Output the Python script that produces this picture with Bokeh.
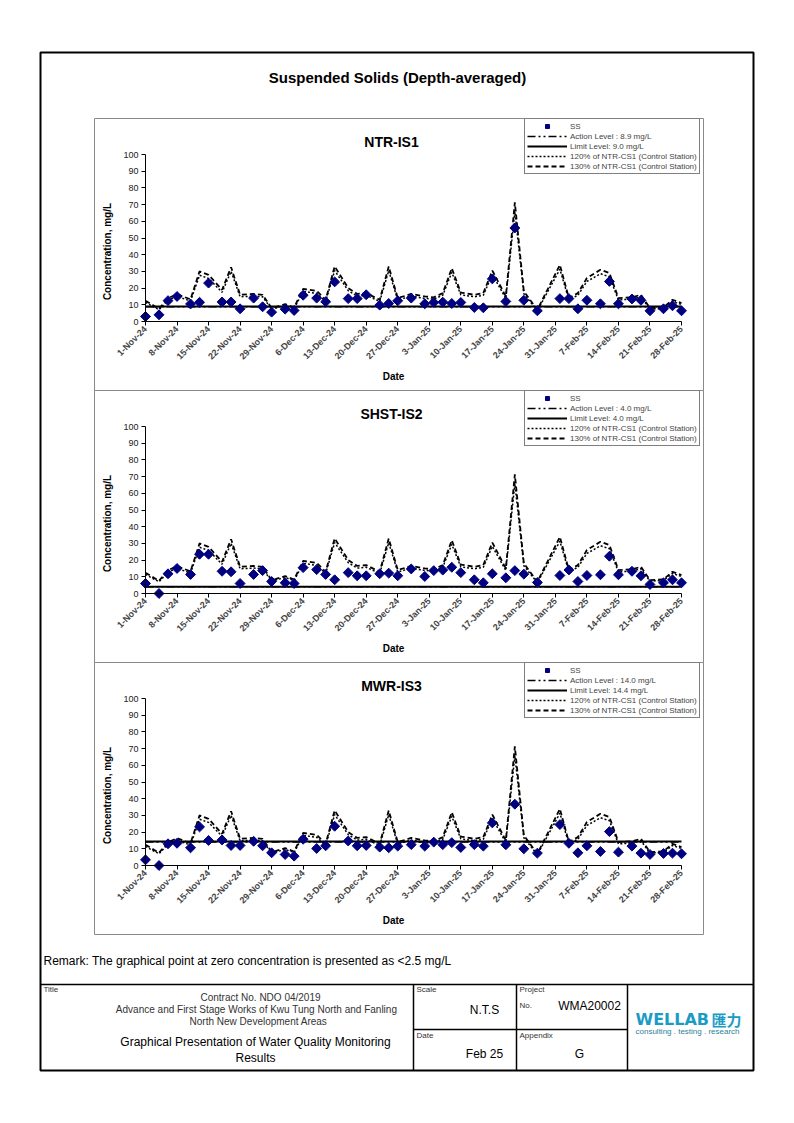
import math
import pandas as pd
from bokeh.plotting import figure
from bokeh.models import Range1d, LinearAxis, FixedTicker, Label, Legend, LegendItem
from bokeh.embed import file_html
from bokeh.resources import INLINE

# ---------------- data ----------------
dates = ["2024-11-01", "2024-11-04", "2024-11-06", "2024-11-08", "2024-11-11", "2024-11-13",
         "2024-11-15", "2024-11-18", "2024-11-20", "2024-11-22", "2024-11-25", "2024-11-27",
         "2024-11-29", "2024-12-02", "2024-12-04", "2024-12-06", "2024-12-09", "2024-12-11",
         "2024-12-13", "2024-12-16", "2024-12-18", "2024-12-20", "2024-12-23", "2024-12-25",
         "2024-12-27", "2024-12-30", "2025-01-02", "2025-01-04", "2025-01-06", "2025-01-08",
         "2025-01-10", "2025-01-13", "2025-01-15", "2025-01-17", "2025-01-20", "2025-01-22",
         "2025-01-24", "2025-01-27", "2025-02-01", "2025-02-03", "2025-02-05", "2025-02-07",
         "2025-02-10", "2025-02-12", "2025-02-14", "2025-02-17", "2025-02-19", "2025-02-21",
         "2025-02-24", "2025-02-26", "2025-02-28"]

ss_ntr_is1 = [3.0, 4.0, 12.5, 15.0, 10.5, 11.5, 23.0, 11.7, 11.7, 7.6, 14.0, 8.8, 5.6, 7.4, 6.6,
              15.7, 14.0, 11.8, 23.7, 13.7, 13.7, 16.0, 9.8, 10.8, 12.4, 14.0, 10.6, 11.4, 11.6,
              10.8, 11.4, 8.4, 8.2, 25.5, 12.0, 56.0, 12.7, 6.4, 13.7, 13.7, 7.6, 12.7, 10.6,
              24.0, 10.6, 13.5, 12.7, 6.4, 7.6, 9.4, 6.4]
ss_shst_is2 = [6.0, 0.0, 11.8, 15.0, 11.4, 23.5, 23.5, 13.3, 13.0, 6.0, 11.4, 13.7, 7.2, 6.4, 6.0,
               15.5, 14.3, 11.4, 8.2, 12.5, 10.6, 10.6, 11.8, 12.2, 10.6, 14.7, 10.2, 13.7, 14.0,
               15.7, 12.5, 8.2, 6.4, 11.8, 9.4, 13.7, 11.6, 6.6, 10.8, 14.1, 7.2, 10.8, 11.2,
               22.3, 11.2, 13.3, 10.6, 5.4, 6.4, 8.2, 6.4]
ss_mwr_is3 = [3.4, 0.0, 13.0, 13.3, 10.6, 23.1, 15.0, 15.3, 12.0, 12.0, 14.5, 11.8, 7.6, 6.6, 5.6,
              15.7, 10.2, 11.8, 23.5, 14.7, 11.8, 12.0, 11.0, 10.6, 11.6, 12.5, 11.6, 14.0, 12.5,
              13.7, 10.8, 12.5, 11.6, 25.5, 12.4, 36.7, 10.0, 7.4, 24.5, 13.3, 7.6, 11.8, 8.4,
              20.3, 8.0, 11.6, 7.4, 6.6, 7.2, 7.4, 7.0]

ctrl_120 = [11.4, 7.0, 12.9, 15.0, 12.3, 27.7, 25.8, 17.5, 30.0, 14.8, 15.2, 14.8, 7.4, 9.6, 7.8,
            18.0, 16.9, 12.0, 30.5, 18.5, 15.2, 15.7, 12.0, 30.4, 12.9, 15.2, 13.8, 13.4, 15.7,
            29.4, 16.0, 14.8, 15.7, 28.2, 13.8, 65.8, 16.6, 6.5, 31.3, 12.9, 15.7, 24.0, 28.6,
            26.8, 12.9, 13.4, 14.8, 7.4, 7.8, 12.0, 10.2]
ctrl_130 = [12.4, 7.6, 14.0, 16.3, 13.3, 30.0, 27.9, 19.0, 32.5, 16.0, 16.5, 16.0, 8.0, 10.4, 8.4,
            19.5, 18.3, 13.0, 33.0, 20.0, 16.5, 17.0, 13.0, 32.9, 14.0, 16.5, 15.0, 14.5, 17.0,
            31.9, 17.3, 16.0, 17.0, 30.5, 15.0, 71.3, 18.0, 7.0, 33.9, 14.0, 17.0, 26.0, 31.0,
            29.0, 14.0, 14.5, 16.0, 8.0, 8.5, 13.0, 11.0]

stations = ["NTR-IS1", "SHST-IS2", "MWR-IS3"]
station_values = [ss_ntr_is1, ss_shst_is2, ss_mwr_is3]
action_levels = [8.9, 4.0, 14.0]
limit_levels = [9.0, 4.0, 14.4]

tick_labels = ["1-Nov-24", "8-Nov-24", "15-Nov-24", "22-Nov-24", "29-Nov-24", "6-Dec-24",
               "13-Dec-24", "20-Dec-24", "27-Dec-24", "3-Jan-25", "10-Jan-25", "17-Jan-25",
               "24-Jan-25", "31-Jan-25", "7-Feb-25", "14-Feb-25", "21-Feb-25", "28-Feb-25"]
y_ticks = [0, 10, 20, 30, 40, 50, 60, 70, 80, 90, 100]

# ---------------- derived ----------------
d0 = pd.Timestamp(dates[0])
days = [(pd.Timestamp(d) - d0).days for d in dates]
tick_days = [(pd.to_datetime(t, format="%d-%b-%y") - d0).days for t in tick_labels]

FONT = "Liberation Sans"
W, H = 778, 1107
PX0, PY0 = 0, 0  # canvas origin in page pixels

p = figure(width=W, height=H, x_range=Range1d(PX0, PX0 + W), y_range=Range1d(PY0 + H, PY0),
           output_backend="svg", toolbar_location=None, x_axis_location=None,
           y_axis_location=None, min_border=0, outline_line_color=None)
p.title.visible = False
p.grid.visible = False
p.background_fill_color = "white"
p.border_fill_color = "white"

# layout constants (page pixels)
AX_L, AX_R = 145, 681
PANEL_DY = 272
ZERO0, TOP0 = 321, 154

ppd = (AX_R - AX_L) / (tick_days[-1] - tick_days[0])
p.extra_x_ranges = {"d": Range1d(tick_days[0] - (AX_L - PX0) / ppd,
                                 tick_days[-1] + (PX0 + W - AX_R) / ppd)}

# frame & boxes
p.quad(left=[40], right=[753], top=[52], bottom=[1070], fill_color=None,
       line_color="black", line_width=2)
for k in range(3):
    p.quad(left=[94], right=[703], top=[118 + k * PANEL_DY], bottom=[390 + k * PANEL_DY],
           fill_color=None, line_color="#8a8a8a", line_width=1)

# title block lines
p.segment(x0=[40, 413, 516, 627, 413], y0=[984, 984, 984, 984, 1029],
          x1=[753, 413, 516, 627, 627], y1=[984, 1070, 1070, 1070, 1029],
          line_color="black", line_width=1.5)


def lab(x, y, text, size="10px", style="normal", align="left", color="black",
        angle=0.0, font=FONT):
    p.add_layout(Label(x=x, y=y, text=text, text_font=font, text_font_size=size,
                       text_font_style=style, text_align=align, text_baseline="middle",
                       text_color=color, angle=angle))


lab(397, 77, "Suspended Solids (Depth-averaged)", size="15px", style="bold", align="center")

for k in range(3):
    zero = ZERO0 + k * PANEL_DY
    top = TOP0 + k * PANEL_DY
    ppu = (zero - top) / 100.0
    yn = f"y{k}"
    p.extra_y_ranges[yn] = Range1d(-(PY0 + H - zero) / ppu, (zero - PY0) / ppu)
    n = len(days)
    vals = station_values[k]

    r130 = p.line(days, ctrl_130, x_range_name="d", y_range_name=yn, line_color="black",
                  line_width=1.8, line_dash="5 3")
    r120 = p.line(days, ctrl_120, x_range_name="d", y_range_name=yn, line_color="black",
                  line_width=1.5, line_dash="2 2")
    rlim = p.line(days, [limit_levels[k]] * n, x_range_name="d", y_range_name=yn,
                  line_color="black", line_width=2)
    ract = p.line(days, [action_levels[k]] * n, x_range_name="d", y_range_name=yn,
                  line_color="black", line_width=1.5, line_dash="8 3 2 3 2 3")
    rss = p.scatter(days, vals, x_range_name="d", y_range_name=yn, marker="square",
                    angle=math.pi / 4, size=7, fill_color="#000080", line_color="#000080")

    xa = LinearAxis(x_range_name="d", fixed_location=zero, bounds=(tick_days[0], tick_days[-1]),
                    ticker=FixedTicker(ticks=tick_days),
                    major_label_overrides={d: t for d, t in zip(tick_days, tick_labels)},
                    major_label_orientation=math.pi / 4,
                    major_label_text_font=FONT, major_label_text_font_size="9px",
                    major_label_text_font_style="bold", major_label_standoff=2,
                    major_tick_in=0, major_tick_out=4, minor_tick_line_color=None,
                    axis_line_color="black", major_tick_line_color="black")
    p.add_layout(xa, "below")
    ya = LinearAxis(y_range_name=yn, fixed_location=AX_L, bounds=(0, 100),
                    ticker=FixedTicker(ticks=y_ticks),
                    major_label_text_font=FONT, major_label_text_font_size="9px",
                    major_label_text_color="#222222", major_label_standoff=3,
                    major_tick_in=0, major_tick_out=4, minor_tick_line_color=None,
                    axis_line_color="black", major_tick_line_color="black")
    p.add_layout(ya, "left")

    legend = Legend(items=[
        LegendItem(label="SS", renderers=[rss]),
        LegendItem(label=f"Action Level : {action_levels[k]:.1f} mg/L", renderers=[ract]),
        LegendItem(label=f"Limit Level: {limit_levels[k]:.1f} mg/L", renderers=[rlim]),
        LegendItem(label="120% of NTR-CS1 (Control Station)", renderers=[r120]),
        LegendItem(label="130% of NTR-CS1 (Control Station)", renderers=[r130]),
    ], location=(524 - PX0, (PY0 + H) - (174 + k * PANEL_DY)),
        label_text_font=FONT, label_text_font_size="8px", glyph_width=40, glyph_height=10,
        label_height=10, label_standoff=3, spacing=0, padding=2, margin=0,
        border_line_color="black", border_line_width=1.5, background_fill_alpha=1.0)
    p.add_layout(legend)

    lab(391, 141 + k * PANEL_DY, stations[k], size="14px", style="bold", align="center")
    lab(107, 251 + k * PANEL_DY, "Concentration, mg/L", size="10px", style="bold",
        align="center", angle=math.pi / 2)
    lab(393, 376 + k * PANEL_DY, "Date", size="10px", style="bold", align="center")

lab(43, 960, "Remark: The graphical point at zero concentration is presented as <2.5 mg/L",
    size="12px")

# title block texts
lab(43, 989, "Title", size="8px", color="#333333")
lab(260, 997, "Contract No. NDO 04/2019", size="10px", align="center", color="#333333")
lab(256, 1009, "Advance and First Stage Works of Kwu Tung North and Fanling", size="10px",
    align="center", color="#333333")
lab(258, 1021, "North New Development Areas", size="10px", align="center", color="#333333")
lab(255, 1041, "Graphical Presentation of Water Quality Monitoring", size="12px", align="center")
lab(255, 1057, "Results", size="12px", align="center")
lab(416, 989, "Scale", size="8px", color="#333333")
lab(484, 1009, "N.T.S", size="12px", align="center")
lab(519, 989, "Project", size="8px", color="#333333")
lab(519, 1005, "No.", size="8px", color="#333333")
lab(589, 1005, "WMA20002", size="12px", align="center")
lab(416, 1035, "Date", size="8px", color="#333333")
lab(484, 1053, "Feb 25", size="12px", align="center")
lab(519, 1035, "Appendix", size="8px", color="#333333")
lab(579, 1053, "G", size="12px", align="center")
lab(635, 1019, "WELLAB", size="16px", style="bold", color="#1B9CC4", font="DejaVu Sans")
lab(711, 1019, "匯力", size="15px", style="bold", color="#1B9CC4", font="Noto Sans CJK TC")
lab(635, 1031, "consulting . testing . research", size="8px", color="#2F7F99")

open("out.html", "w").write(file_html(p, INLINE))
